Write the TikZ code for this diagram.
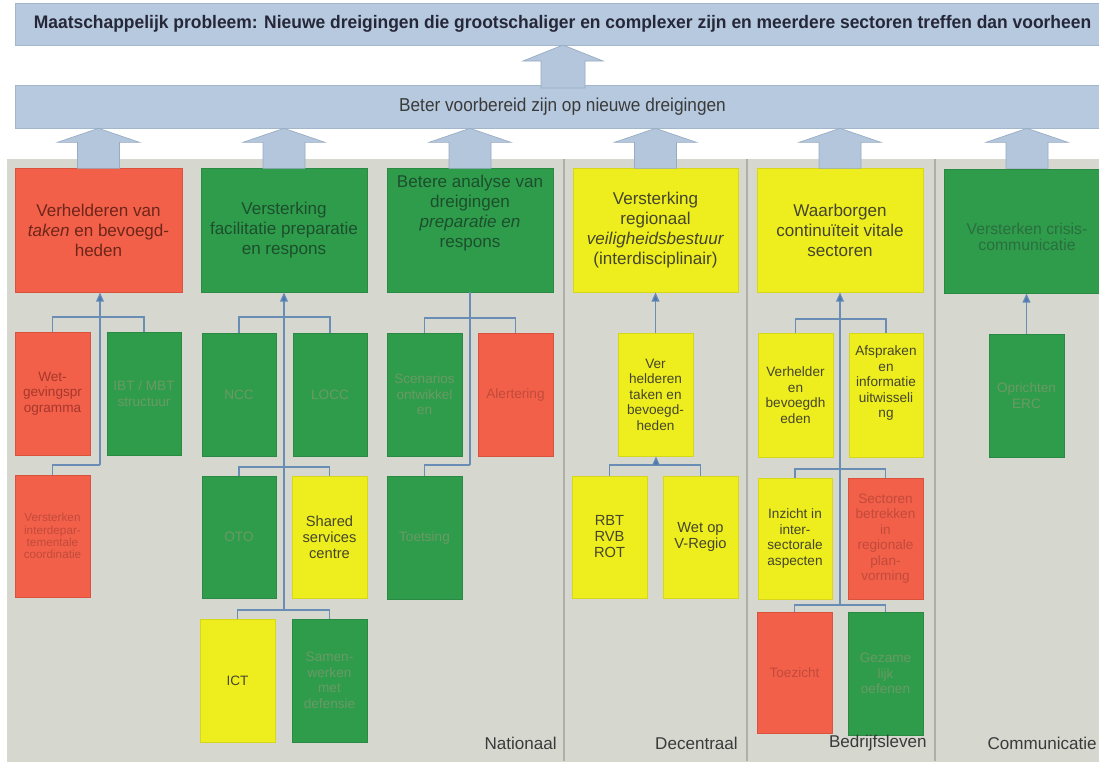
\documentclass[tikz,border=0pt]{standalone}
\usepackage{fontspec}
\setmainfont{Liberation Sans}
\usepackage{graphicx}
\usetikzlibrary{arrows.meta,calc}
\definecolor{bannerF}{HTML}{B6C9DE}
\definecolor{bannerD}{HTML}{A3B7CC}
\definecolor{arrowF}{HTML}{B3C6DB}
\definecolor{arrowD}{HTML}{97ACC3}
\definecolor{grayBG}{HTML}{D6D8D0}
\definecolor{grayLine}{HTML}{AEB0A8}
\definecolor{redF}{HTML}{F2604A}
\definecolor{redD}{HTML}{D9523E}
\definecolor{redTH}{HTML}{6E2619}
\definecolor{redTS}{HTML}{A8372B}
\definecolor{redTL}{HTML}{C24A3A}
\definecolor{greenF}{HTML}{2F9C4C}
\definecolor{greenD}{HTML}{2A8A44}
\definecolor{greenTH}{HTML}{1C4F2C}
\definecolor{greenTM}{HTML}{2A6E3E}
\definecolor{greenTS}{HTML}{6A9A63}
\definecolor{yellowF}{HTML}{EEEE1E}
\definecolor{yellowD}{HTML}{D6D61A}
\definecolor{yellowT}{HTML}{45452C}
\definecolor{linkC}{HTML}{6A8DB6}
\definecolor{headC}{HTML}{4A78B0}
\definecolor{labelC}{HTML}{3A3A3A}
\definecolor{titleC}{HTML}{26283A}
\tikzset{
  box/.style={rectangle, inner sep=0pt, align=center, line width=0.6pt},
  hdr/.style={box, font=\fontsize{12.8}{15}\selectfont},
  sub/.style={box, font=\fontsize{10.2}{11.6}\selectfont},
  small/.style={box, font=\fontsize{8.8}{9.2}\selectfont},
  rH/.style={fill=redF, draw=redD, text=redTH},
  rS/.style={fill=redF, draw=redD, text=redTS},
  rL/.style={fill=redF, draw=redD, text=redTL},
  gH/.style={fill=greenF, draw=greenD, text=greenTH},
  gM/.style={fill=greenF, draw=greenD, text=greenTM},
  gS/.style={fill=greenF, draw=greenD, text=greenTS},
  yH/.style={fill=yellowF, draw=yellowD, text=yellowT},
  banner/.style={rectangle, fill=bannerF, draw=bannerD, line width=0.5pt, inner sep=0pt},
  barrow/.style={fill=arrowF, draw=arrowD, line width=0.5pt},
  link/.style={draw=linkC, line width=0.9pt},
  up/.style={link, -{Triangle[length=7pt,width=6pt,fill=headC]}},
  lbl/.style={inner sep=0pt, text=labelC, font=\fontsize{12.8}{15}\selectfont},
  divider/.style={draw=grayLine, line width=0.8pt}
}
\newcommand{\bx}[7]{\node[#6, minimum width={(#4-#2)*0.75pt}, minimum height={(#5-#3)*0.75pt}] (#1) at ({(#2+#4)/2},{(#3+#5)/2}) {#7};}
\begin{document}
\begin{tikzpicture}[x=0.75pt,y=-0.75pt]
\useasboundingbox (0,0) rectangle (1099,761);
\clip (0,0) rectangle (1099,761);
\fill[white] (0,0) rectangle (1099,761);
% gray panel
\fill[grayBG] (7,159) rectangle (1110,770);
\draw[divider] (564,159) -- (564,761);
\draw[divider] (747,159) -- (747,761);
\draw[divider] (935,159) -- (935,761);
% banners
\node[banner, minimum width={1095*0.75pt}, minimum height={42*0.75pt}] (ban1) at (562.5,24)
  {\textcolor{titleC}{\resizebox{793pt}{\height}{\fontsize{13.6}{15}\selectfont\bfseries Maatschappelijk probleem: Nieuwe dreigingen die grootschaliger en complexer zijn en meerdere sectoren treffen dan voorheen}}};
\node[banner, minimum width={1095*0.75pt}, minimum height={43*0.75pt}] (ban2) at (562.5,106.5)
  {\textcolor{labelC}{\resizebox{245pt}{\height}{\fontsize{14}{16}\selectfont Beter voorbereid zijn op nieuwe dreigingen}}};
% big arrow between banners
\filldraw[barrow] (563,45) -- ++(40,16) -- ++(-18,0) -- ++(0,27) -- ++(-44,0) -- ++(0,-27) -- ++(-18,0) -- cycle;
% header boxes
\bx{b1}{15}{168}{182}{292}{hdr,rH}{Verhelderen van\\\textit{taken} en bevoegd-\\heden}
\bx{b2}{201}{168}{367}{292}{hdr,gH}{Versterking\\facilitatie preparatie\\en respons}
\bx{b3}{387}{168}{553}{292}{hdr,gH,text depth=28pt}{Betere analyse van\\dreigingen\\\textit{preparatie en}\\respons}
\bx{b4}{573}{168}{738}{292}{hdr,yH}{Versterking\\regionaal\\\textit{veiligheidsbestuur}\\(interdisciplinair)}
\bx{b5}{757}{168}{923}{292}{hdr,yH}{Waarborgen\\continuïteit vitale\\sectoren}
\bx{b6}{944}{169}{1110}{293}{hdr,gM,font=\fontsize{11.8}{12.5}\selectfont,text height=30pt}{Versterken crisis-\\communicatie}
% block arrows from columns to banner
\foreach \bb in {b1,b2,b3,b4,b5,b6}{
  \filldraw[barrow] let \p1=(\bb.north), \p2=(ban2.south) in (\x1,\y2) -- ++(41,14) -- ++(-20,0) -- ++(0,26) -- ++(-42,0) -- ++(0,-26) -- ++(-20,0) -- cycle;
}
% column 1
\bx{wet}{15}{332}{90}{455}{sub,rS}{Wet-\\gevingspr\\ogramma}
\bx{ibt}{107}{332}{181}{455}{sub,gS}{IBT / MBT\\structuur}
\bx{vst}{15}{475}{90}{597}{small,rL}{Versterken\\interdepar-\\tementale\\coordinatie}
% column 2
\bx{ncc}{202}{333}{276}{456}{sub,gS}{NCC}
\bx{locc}{293}{333}{367}{456}{sub,gS}{LOCC}
\bx{oto}{202}{476}{276}{598}{sub,gS}{OTO}
\bx{ssc}{292}{476}{367}{598}{sub,yH,font=\fontsize{11}{12}\selectfont}{Shared\\services\\centre}
\bx{ict}{200}{619}{275}{742}{sub,yH}{ICT}
\bx{sam}{292}{619}{367}{742}{sub,gS}{Samen-\\werken\\met\\defensie}
% column 3
\bx{scn}{387}{333}{462}{456}{sub,gS}{Scenarios\\ontwikkel\\en}
\bx{alr}{478}{333}{553}{456}{sub,rL}{Alertering}
\bx{toe}{387}{476}{462}{599}{sub,gS}{Toetsing}
% column 4
\bx{vh}{618}{333}{693}{456}{sub,yH}{Ver\\helderen\\taken en\\bevoegd-\\heden}
\bx{rbt}{572}{476}{647}{598}{sub,yH,font=\fontsize{11}{12}\selectfont}{RBT\\RVB\\ROT}
\bx{wop}{663}{476}{738}{598}{sub,yH,font=\fontsize{11}{12}\selectfont}{Wet op\\V-Regio}
% column 5
\bx{vhb}{758}{333}{833}{457}{sub,yH}{Verhelder\\en\\bevoegdh\\eden}
\bx{afs}{849}{333}{923}{457}{sub,yH,text depth=20pt}{Afspraken\\en\\informatie\\uitwisseli\\ng}
\bx{inz}{758}{478}{832}{599}{sub,yH}{Inzicht in\\inter-\\sectorale\\aspecten}
\bx{sec}{848}{478}{923}{599}{sub,rL}{Sectoren\\betrekken\\in\\regionale\\plan-\\vorming}
\bx{tzt}{757}{612}{832}{733}{sub,rL}{Toezicht}
\bx{gez}{848}{612}{923}{735}{sub,gS}{Gezame\\lijk\\oefenen}
% column 6
\bx{erc}{989}{334}{1064}{457}{sub,gS}{Oprichten\\ERC}
% connectors column 1
\coordinate (j1a) at (100,317);
\coordinate (j1b) at (100,465);
\draw[link] (wet.north) |- (j1a) -| (ibt.north);
\draw[link] (vst.north) |- (j1b);
\draw[up] (j1b) -- (j1b |- b1.south);
% column 2
\coordinate (j2a) at (284,317);
\coordinate (j2b) at (284,467);
\coordinate (j2c) at (284,610);
\draw[link] (ncc.north) |- (j2a) -| (locc.north);
\draw[link] (oto.north) |- (j2b) -| (ssc.north);
\draw[link] (ict.north) |- (j2c) -| (sam.north);
\draw[up] (j2c) -- (j2c |- b2.south);
% column 3
\coordinate (j3a) at (470,318);
\coordinate (j3b) at (470,465);
\draw[link] (scn.north) |- (j3a) -| (alr.north);
\draw[link] (toe.north) |- (j3b);
\draw[link] (j3b) -- (j3b |- b3.south);
% column 4
\coordinate (j4) at (656,465);
\draw[link] (rbt.north) |- (j4) -| (wop.north);
\draw[up] (j4) -- (j4 |- vh.south);
\draw[up] (vh.north) -- (vh.north |- b4.south);
% column 5
\coordinate (j5a) at (840,319);
\coordinate (j5b) at (840,469);
\coordinate (j5c) at (840,605);
\draw[link] (vhb.north) |- (j5a) -| (afs.north);
\draw[link] (inz.north) |- (j5b) -| (sec.north);
\draw[link] (tzt.north) |- (j5c) -| (gez.north);
\draw[up] (j5c) -- (j5c |- b5.south);
% column 6
\draw[up] (erc.north) -- (erc.north |- b6.south);
% bottom labels
\node[lbl, anchor=east] (lnat) at (557,743) {Nationaal};
\node[lbl, anchor=east] (ldec) at (738,743) {Decentraal};
\node[lbl, anchor=east] (lbed) at (927,743) {Bedrijfsleven};
\node[lbl, anchor=east] (lcom) at (1097,743) {Communicatie};
\end{tikzpicture}
\end{document}
